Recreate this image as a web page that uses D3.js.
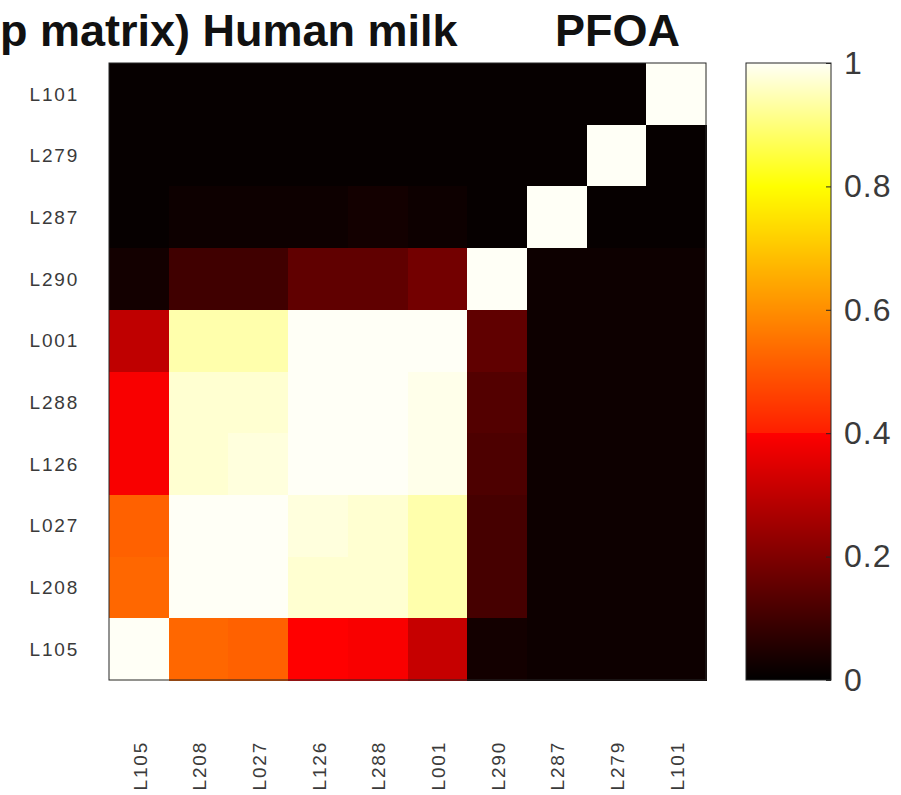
<!DOCTYPE html>
<html><head><meta charset="utf-8">
<script src="https://cdn.jsdelivr.net/npm/d3@7"></script>
<style>body{margin:0;background:#fff}svg{display:block}</style>
</head><body>
<svg id="c" width="901" height="795"></svg>
<script>
const rowLabels = ["L101","L279","L287","L290","L001","L288","L126","L027","L208","L105"];
const colLabels = ["L105","L208","L027","L126","L288","L001","L290","L287","L279","L101"];
// values[row][col]
const values = [
  [0.01,0.01,0.01,0.01,0.01,0.01,0.01,0.01,0.01,1.00],
  [0.01,0.01,0.01,0.01,0.01,0.01,0.01,0.01,1.00,0.01],
  [0.01,0.02,0.02,0.02,0.03,0.02,0.01,1.00,0.01,0.01],
  [0.03,0.10,0.10,0.15,0.15,0.18,1.00,0.02,0.02,0.02],
  [0.30,0.94,0.94,1.00,1.00,1.00,0.15,0.02,0.02,0.02],
  [0.39,0.97,0.97,1.00,1.00,0.99,0.13,0.02,0.02,0.02],
  [0.39,0.97,0.98,1.00,1.00,0.99,0.12,0.02,0.02,0.02],
  [0.52,1.00,1.00,0.98,0.97,0.94,0.11,0.02,0.02,0.02],
  [0.53,1.00,1.00,0.97,0.97,0.94,0.11,0.02,0.02,0.02],
  [1.00,0.53,0.52,0.40,0.39,0.31,0.03,0.02,0.02,0.02]
];
const cbTicks = [0,0.2,0.4,0.6,0.8,1];
const titleLeft = "p matrix) Human milk";
const titleRight = "PFOA";

const svg = d3.select("#c");
const L = 109, R = 706, T = 63, B = 680;
const x = d3.scaleBand().domain(colLabels).range([L, R]);
const y = d3.scaleBand().domain(rowLabels).range([T, B]);

// hot-like colormap
const cmap = d3.scaleLinear()
  .domain([0, 0.4, 0.4001, 0.8, 1])
  .range(["#000000", "#ff0000", "#ff1e00", "#ffff00", "#fffff6"])
  .clamp(true);

const font = "Liberation Sans, Arial, sans-serif";
const cells = [];
values.forEach((row, i) => row.forEach((v, j) => cells.push({r: rowLabels[i], c: colLabels[j], v})));
svg.append("g").attr("shape-rendering", "crispEdges").selectAll("rect").data(cells).join("rect")
  .attr("x", d => x(d.c)).attr("y", d => y(d.r))
  .attr("width", x.bandwidth() + 0.5).attr("height", y.bandwidth() + 0.5)
  .attr("fill", d => cmap(d.v));
svg.append("rect").attr("x", L).attr("y", T).attr("width", R - L).attr("height", B - T)
  .attr("fill", "none").attr("stroke", "#262626").attr("stroke-width", 1);

// y labels
svg.append("g").selectAll("text").data(rowLabels).join("text")
  .attr("x", 79).attr("y", d => y(d) + y.bandwidth() / 2).attr("dy", "0.35em")
  .attr("text-anchor", "end").attr("font-family", font)
  .attr("font-size", 19).attr("letter-spacing", 1.8).attr("fill", "#3a3a3a").text(d => d);
// x labels
svg.append("g").selectAll("text").data(colLabels).join("text")
  .attr("transform", d => `translate(${x(d) + x.bandwidth() / 2 + 1},741) rotate(-90)`)
  .attr("dy", "0.35em").attr("text-anchor", "end")
  .attr("font-family", font)
  .attr("font-size", 19).attr("letter-spacing", 1.8).attr("fill", "#3a3a3a").text(d => d);

// colorbar
const CL = 746, CR = 831;
const cy = d3.scaleLinear().domain([0, 1]).range([B, T]);
const steps = d3.range(T, B);
svg.append("g").attr("shape-rendering", "crispEdges").selectAll("rect").data(steps).join("rect")
  .attr("x", CL).attr("width", CR - CL)
  .attr("y", d => d).attr("height", 1)
  .attr("fill", d => cmap(cy.invert(d + 0.5)));
svg.append("rect").attr("x", CL).attr("y", T).attr("width", CR - CL).attr("height", B - T)
  .attr("fill", "none").attr("stroke", "#262626").attr("stroke-width", 1);
const axis = d3.axisRight(cy).tickValues(cbTicks).tickSize(-5).tickPadding(13)
  .tickFormat(d => d3.format("~g")(d));
const ag = svg.append("g").attr("transform", `translate(${CR},0)`).call(axis);
ag.select(".domain").remove();
ag.selectAll("line").attr("stroke", "#262626");
ag.selectAll("text").attr("font-family", font)
  .attr("font-size", 32).attr("letter-spacing", 1).attr("fill", "#3a3a3a");

// title
svg.append("text").attr("x", 0).attr("y", 46)
  .attr("font-family", font).attr("font-weight", "bold")
  .attr("font-size", 45).attr("fill", "#111").text(titleLeft);
svg.append("text").attr("x", 555).attr("y", 46)
  .attr("font-family", font).attr("font-weight", "bold")
  .attr("font-size", 45).attr("fill", "#111").text(titleRight);
</script>
</body></html>
